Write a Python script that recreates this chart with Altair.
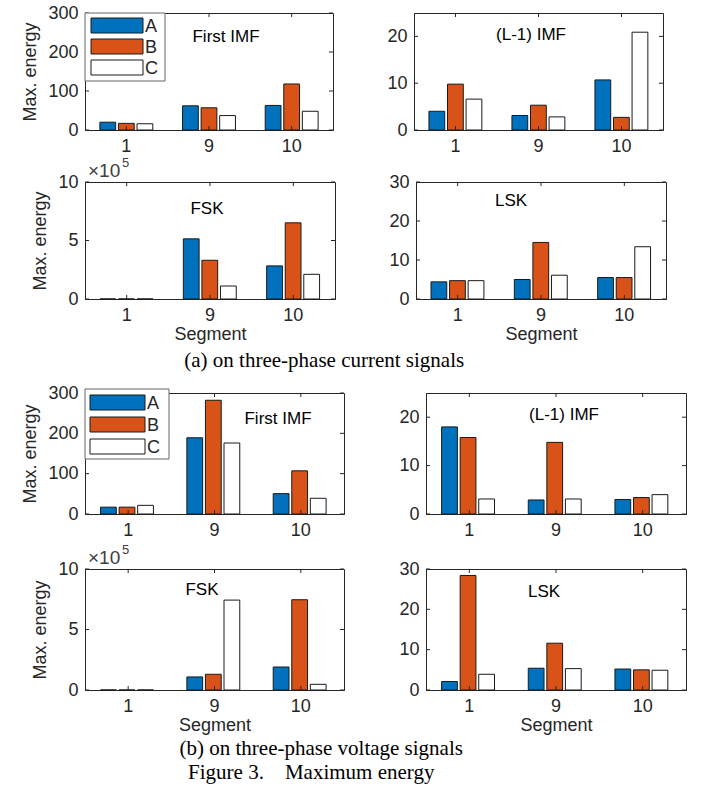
import altair as alt
import pandas as pd

segments = ["1", "9", "10"]
phases = ["A", "B", "C"]
colors = ["#0072BD", "#D95319", "#FFFFFF"]

# (a) three-phase current signals
cur_imf1_A = [20, 62, 63]
cur_imf1_B = [17, 57, 118]
cur_imf1_C = [16, 37, 48]
cur_imfL_A = [4.0, 3.1, 10.7]
cur_imfL_B = [9.8, 5.3, 2.7]
cur_imfL_C = [6.6, 2.8, 20.9]
cur_fsk_A = [0.003, 5.14, 2.83]
cur_fsk_B = [0.003, 3.31, 6.51]
cur_fsk_C = [0.003, 1.11, 2.11]
cur_lsk_A = [4.4, 5.0, 5.5]
cur_lsk_B = [4.7, 14.5, 5.5]
cur_lsk_C = [4.7, 6.1, 13.4]

# (b) three-phase voltage signals
vol_imf1_A = [17, 189, 50.5]
vol_imf1_B = [17, 282, 107]
vol_imf1_C = [21.5, 176, 39]
vol_imfL_A = [18.0, 2.9, 3.0]
vol_imfL_B = [15.8, 14.8, 3.4]
vol_imfL_C = [3.1, 3.1, 4.0]
vol_fsk_A = [0.003, 1.08, 1.9]
vol_fsk_B = [0.003, 1.3, 7.46]
vol_fsk_C = [0.003, 7.43, 0.47]
vol_lsk_A = [2.1, 5.4, 5.2]
vol_lsk_B = [28.4, 11.6, 5.0]
vol_lsk_C = [3.9, 5.3, 4.9]

ticks_300 = [0, 100, 200, 300]
ticks_25 = [0, 10, 20]
ticks_10 = [0, 5, 10]
ticks_30 = [0, 10, 20, 30]

FONT = "Liberation Sans"
GRAY = "#262626"
NB = "\u00a0"


def legend_layers(box, sw_x, sw_w, sw_y0, sw_h, step, color):
    bx0, by0, bx1, by1 = box
    frame = alt.Chart(pd.DataFrame({"k": [0]})).mark_rect(
        fill="white", stroke="#666666", strokeWidth=1
    ).encode(x=alt.value(bx0), x2=alt.value(bx1), y=alt.value(by0), y2=alt.value(by1))
    out = [frame]
    for i, p in enumerate(phases):
        d = pd.DataFrame({"Phase": [p]})
        y0 = sw_y0 + i * step
        sw = alt.Chart(d).mark_rect(stroke="#1a1a1a", strokeWidth=1).encode(
            x=alt.value(sw_x), x2=alt.value(sw_x + sw_w),
            y=alt.value(y0), y2=alt.value(y0 + sw_h), color=color)
        lab = alt.Chart(d).mark_text(
            font=FONT, fontSize=18, color=GRAY, align="left", baseline="middle"
        ).encode(x=alt.value(sw_x + sw_w + 2), y=alt.value(y0 + sw_h / 2 + 1), text="Phase:N")
        out += [sw, lab]
    return out


def panel(a, b, c, ymax, yticks, label, lx, ly, w, h,
          ytitle=False, xtitle=False, legend=None, exponent=False):
    df = pd.DataFrame({
        "Segment": segments * 3,
        "Phase": [p for p in phases for _ in segments],
        "Value": list(a) + list(b) + list(c),
    })
    xaxis = alt.Axis(labelAngle=0, labelPadding=7, title="Segment" if xtitle else None,
                     titlePadding=1)
    yaxis = alt.Axis(values=yticks, tickCount=20, format="d", labelPadding=7,
                     labelOverlap=False, title="Max. energy" if ytitle else None,
                     titlePadding=8)
    x = alt.X("Segment:N", sort=segments,
              scale=alt.Scale(paddingInner=0.36, paddingOuter=0.18), axis=xaxis)
    y = alt.Y("Value:Q", scale=alt.Scale(domain=[0, ymax], nice=False), axis=yaxis)
    color = alt.Color("Phase:N", sort=phases,
                      scale=alt.Scale(domain=phases, range=colors), legend=None)
    bars = alt.Chart(df).mark_bar(stroke="#1a1a1a", strokeWidth=1).encode(
        x=x, y=y, color=color,
        xOffset=alt.XOffset("Phase:N", sort=phases,
                            scale=alt.Scale(paddingInner=0.15, paddingOuter=0)),
    )
    ydf = pd.DataFrame({"Value": yticks})
    yt_l = alt.Chart(ydf).mark_rule(color=GRAY).encode(
        y="Value:Q", x=alt.value(0), x2=alt.value(4))
    yt_r = alt.Chart(ydf).mark_rule(color=GRAY).encode(
        y="Value:Q", x=alt.value(w - 4), x2=alt.value(w))
    xdf = pd.DataFrame({"Segment": segments})
    xt_b = alt.Chart(xdf).mark_rule(color=GRAY).encode(
        x=alt.X("Segment:N", sort=segments, bandPosition=0.5),
        y=alt.value(h - 4), y2=alt.value(h))
    xt_t = alt.Chart(xdf).mark_rule(color=GRAY).encode(
        x=alt.X("Segment:N", sort=segments, bandPosition=0.5),
        y=alt.value(0), y2=alt.value(4))
    txt = alt.Chart(pd.DataFrame({"t": [label]})).mark_text(
        font=FONT, fontSize=17, color="black", align="center", baseline="middle"
    ).encode(x=alt.value(lx), y=alt.value(ly), text="t:N")
    layers = [bars, yt_l, yt_r, xt_b, xt_t, txt]
    if legend is not None:
        layers += legend_layers(*legend, color=color)
    if exponent:
        e1 = alt.Chart(pd.DataFrame({"t": ["\u00d710"]})).mark_text(
            font=FONT, fontSize=19, color="#404040", align="left", baseline="middle"
        ).encode(x=alt.value(3), y=alt.value(-11), text="t:N")
        e2 = alt.Chart(pd.DataFrame({"t": ["5"]})).mark_text(
            font=FONT, fontSize=13, color="#404040", align="left", baseline="middle"
        ).encode(x=alt.value(37), y=alt.value(-19), text="t:N")
        layers += [e1, e2]
    return alt.layer(*layers).properties(width=w, height=h)


def ind(ch):
    return ch.resolve_scale(color="independent")


leg1 = ((0, 0, 80, 68), 6, 52, 5, 15, 21)
leg5 = ((0, -4, 84, 66), 5, 55, 2, 15, 22)

p1 = panel(cur_imf1_A, cur_imf1_B, cur_imf1_C, 300, ticks_300, "First IMF", 141, 24, 248, 117,
           ytitle=True, legend=leg1)
p2 = panel(cur_imfL_A, cur_imfL_B, cur_imfL_C, 25, ticks_25, "(L-1) IMF", 117, 22, 249, 117)
p3 = panel(cur_fsk_A, cur_fsk_B, cur_fsk_C, 10, ticks_10, "FSK", 122, 27, 250, 117,
           ytitle=True, xtitle=True, exponent=True)
p4 = panel(cur_lsk_A, cur_lsk_B, cur_lsk_C, 30, ticks_30, "LSK", 95, 19, 250, 117,
           xtitle=True)
p5 = panel(vol_imf1_A, vol_imf1_B, vol_imf1_C, 300, ticks_300, "First IMF", 193, 26, 259, 121,
           ytitle=True, legend=leg5)
p6 = panel(vol_imfL_A, vol_imfL_B, vol_imfL_C, 25, ticks_25, "(L-1) IMF", 138, 22, 260, 121)
p7 = panel(vol_fsk_A, vol_fsk_B, vol_fsk_C, 10, ticks_10, "FSK", 117, 21, 259, 121,
           ytitle=True, xtitle=True, exponent=True)
p8 = panel(vol_lsk_A, vol_lsk_B, vol_lsk_C, 30, ticks_30, "LSK", 118, 23, 260, 121,
           xtitle=True)

row1 = ind(alt.hconcat(p1, p2, spacing=52))
row2 = ind(alt.hconcat(p3, p4, spacing=52))
row3 = ind(alt.hconcat(p5, p6, spacing=53))
row4 = ind(alt.hconcat(p7, p8, spacing=53))

cap_style = dict(orient="bottom", font="Liberation Serif", fontSize=21, fontWeight="normal",
                 color="black", anchor="middle")

block1 = ind(alt.vconcat(row1, row2, spacing=0)).properties(
    title=alt.TitleParams("(a) on three-phase current signals", dx=-20, offset=6, **cap_style))
block2 = ind(alt.vconcat(row3, row4, spacing=3)).properties(
    title=alt.TitleParams("(b) on three-phase voltage signals", dx=-33, offset=3, **cap_style))

chart = ind(alt.vconcat(block1, block2, spacing=12)).properties(
    padding={"left": 21, "top": 3, "right": 5, "bottom": 5},
    title=alt.TitleParams("Figure 3." + NB * 4 + "Maximum energy", dx=-43, offset=3,
                          **cap_style),
).configure_axis(
    labelFont=FONT, labelFontSize=18, labelColor=GRAY,
    titleFont=FONT, titleFontSize=18, titleFontWeight="normal", titleColor=GRAY,
    domainColor=GRAY, ticks=False, grid=False,
).configure_view(stroke=GRAY, strokeWidth=1).configure_title(
    font="Liberation Serif", fontSize=21, fontWeight="normal", color="black"
)

chart.save("out.html", embed_options={"renderer": "svg", "actions": False})
